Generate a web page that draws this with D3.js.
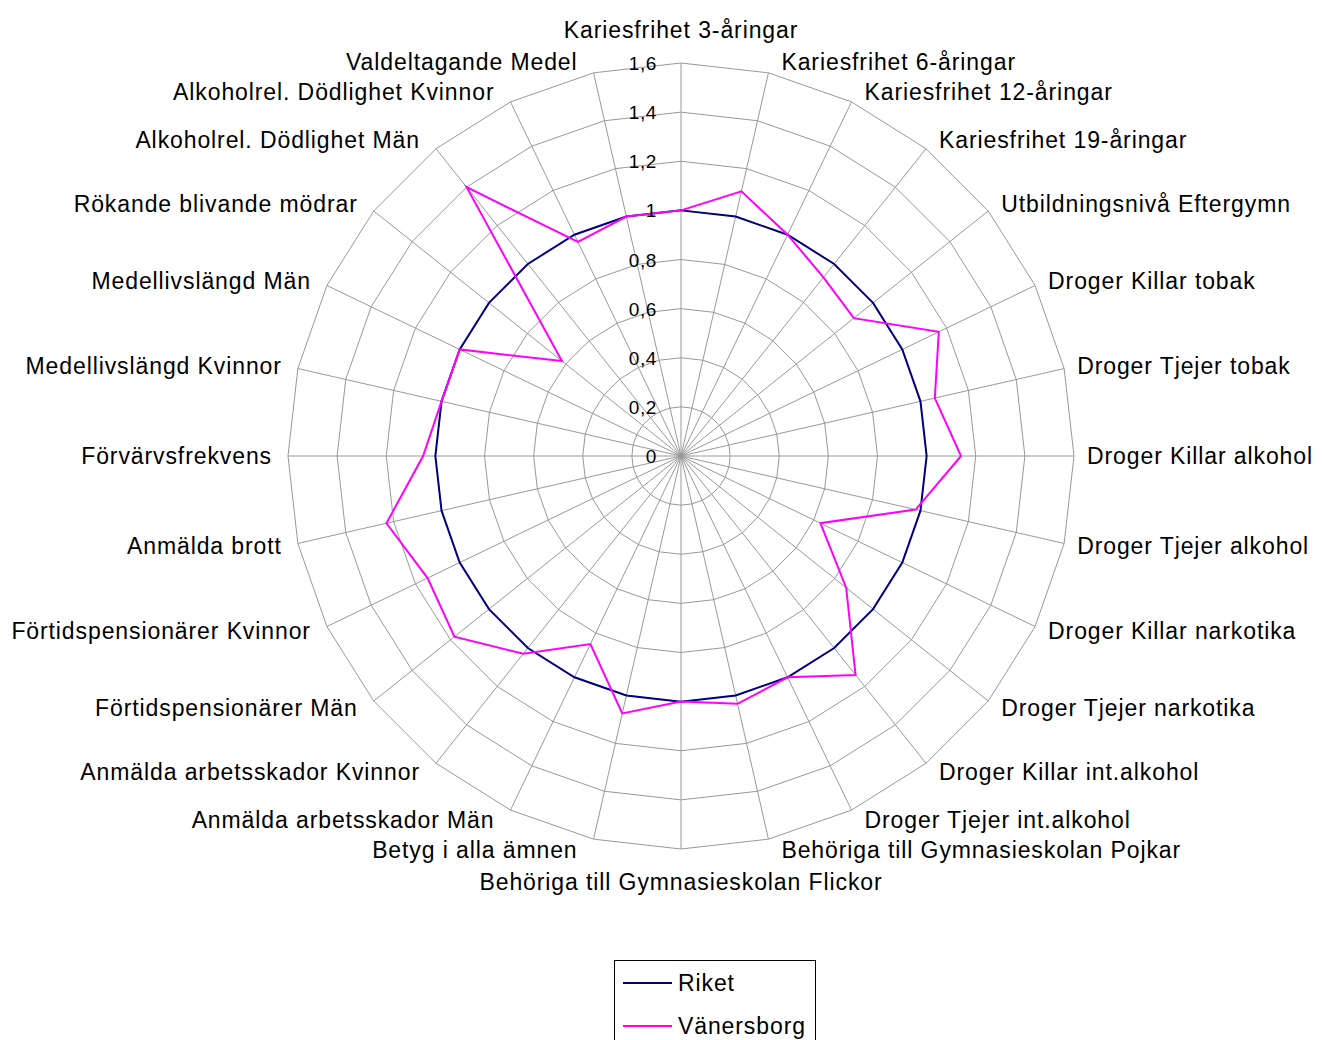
<!DOCTYPE html>
<html>
<head>
<meta charset="utf-8">
<script src="https://cdn.jsdelivr.net/npm/d3@7"></script>
<style>
  html, body { margin: 0; padding: 0; background: #fff; }
  text { font-family: "Liberation Sans", Arial, sans-serif; fill: #000; }
</style>
</head>
<body>
<script>
const categories = [
  'Kariesfrihet 3-åringar', 'Kariesfrihet 6-åringar', 'Kariesfrihet 12-åringar',
  'Kariesfrihet 19-åringar', 'Utbildningsnivå Eftergymn', 'Droger Killar tobak',
  'Droger Tjejer tobak', 'Droger Killar alkohol', 'Droger Tjejer alkohol',
  'Droger Killar narkotika', 'Droger Tjejer narkotika', 'Droger Killar int.alkohol',
  'Droger Tjejer int.alkohol', 'Behöriga till Gymnasieskolan Pojkar',
  'Behöriga till Gymnasieskolan Flickor', 'Betyg i alla ämnen',
  'Anmälda arbetsskador Män', 'Anmälda arbetsskador Kvinnor',
  'Förtidspensionärer Män', 'Förtidspensionärer Kvinnor', 'Anmälda brott',
  'Förvärvsfrekvens', 'Medellivslängd Kvinnor', 'Medellivslängd Män',
  'Rökande blivande mödrar', 'Alkoholrel. Dödlighet Män',
  'Alkoholrel. Dödlighet Kvinnor', 'Valdeltagande Medel'
];
const riket = [1, 1, 1, 1, 1, 1, 1, 1, 1, 1, 1, 1, 1, 1,
               1, 1, 1, 1, 1, 1, 1, 1, 1, 1, 1, 1, 1, 1];
const vanersborg = [1.0, 1.105, 1.0, 0.93, 0.90, 1.165, 1.06, 1.14, 0.98, 0.63,
                    0.86, 1.14, 1.0, 1.035, 1.0, 1.075, 0.85, 1.03, 1.18, 1.145,
                    1.23, 1.05, 1.0, 1.0, 0.62, 1.40, 0.967, 1.0];
const ticks = [0, 0.2, 0.4, 0.6, 0.8, 1, 1.2, 1.4, 1.6];
const tickLabels = ['0', '0,2', '0,4', '0,6', '0,8', '1', '1,2', '1,4', '1,6'];
const seriesNames = ['Riket', 'Vänersborg'];
const seriesColors = ['#000080', '#ff00ff'];

const width = 1322, height = 1040;
const cx = 681, cy = 456;

const r = d3.scaleLinear().domain([0, 1.6]).range([0, 393]);
const angle = d3.scaleLinear().domain([0, categories.length]).range([0, 2 * Math.PI]);

const svg = d3.select('body').append('svg')
  .attr('width', width)
  .attr('height', height);

svg.append('rect').attr('width', width).attr('height', height).attr('fill', '#fff');

const g = svg.append('g').attr('transform', 'translate(' + cx + ',' + cy + ')');

function pt(i, v) {
  const a = angle(i);
  return [r(v) * Math.sin(a), -r(v) * Math.cos(a)];
}

// rings
const ring = d3.line().curve(d3.curveLinearClosed);
g.append('g').selectAll('path')
  .data(ticks.slice(1))
  .enter().append('path')
  .attr('d', function (t) {
    return ring(categories.map(function (c, i) { return pt(i, t); }));
  })
  .attr('fill', 'none')
  .attr('stroke', '#999')
  .attr('stroke-width', 1);

// spokes
g.append('g').selectAll('line')
  .data(categories)
  .enter().append('line')
  .attr('x1', 0).attr('y1', 0)
  .attr('x2', function (c, i) { return pt(i, 1.6)[0]; })
  .attr('y2', function (c, i) { return pt(i, 1.6)[1]; })
  .attr('stroke', '#999')
  .attr('stroke-width', 1);

// series
const radial = d3.lineRadial()
  .angle(function (d, i) { return angle(i); })
  .radius(function (d) { return r(d); })
  .curve(d3.curveLinearClosed);

[riket, vanersborg].forEach(function (s, k) {
  g.append('path')
    .attr('d', radial(s))
    .attr('fill', 'none')
    .attr('stroke', seriesColors[k])
    .attr('stroke-width', 2)
    .attr('stroke-linejoin', 'miter');
});

// tick labels
g.append('g').selectAll('text')
  .data(ticks)
  .enter().append('text')
  .attr('x', -24)
  .attr('y', function (t) { return -r(t) + 7; })
  .attr('text-anchor', 'end')
  .style('font-size', '19px')
  .style('letter-spacing', '0.6px')
  .text(function (t, i) { return tickLabels[i]; });

// category labels
g.append('g').selectAll('text')
  .data(categories)
  .enter().append('text')
  .attr('x', function (c, i) {
    const s = Math.sin(angle(i));
    const p = pt(i, 1.6);
    if (Math.abs(s) < 0.01) return p[0];
    return p[0] + (s > 0 ? 13 : -16);
  })
  .attr('y', function (c, i) {
    const co = Math.cos(angle(i));
    const p = pt(i, 1.6);
    let off = -co * 11;
    if (Math.abs(Math.sin(angle(i))) < 0.01) off = -co * 33;
    return p[1] + off + 8;
  })
  .attr('text-anchor', function (c, i) {
    const s = Math.sin(angle(i));
    if (Math.abs(s) < 0.01) return 'middle';
    return s > 0 ? 'start' : 'end';
  })
  .style('font-size', '23px')
  .style('letter-spacing', '0.9px')
  .text(function (c) { return c; });

// legend
const legend = svg.append('g').attr('transform', 'translate(614,960)');
legend.append('rect')
  .attr('x', 0.5).attr('y', 0.5)
  .attr('width', 201).attr('height', 92)
  .attr('fill', '#fff')
  .attr('stroke', '#000')
  .attr('stroke-width', 1);
seriesNames.forEach(function (name, k) {
  const y = 23 + k * 43;
  legend.append('line')
    .attr('x1', 9).attr('x2', 58)
    .attr('y1', y).attr('y2', y)
    .attr('stroke', seriesColors[k])
    .attr('stroke-width', 2);
  legend.append('text')
    .attr('x', 64).attr('y', y + 8)
    .style('font-size', '23px')
    .style('letter-spacing', '0.9px')
    .text(name);
});
</script>
</body>
</html>
